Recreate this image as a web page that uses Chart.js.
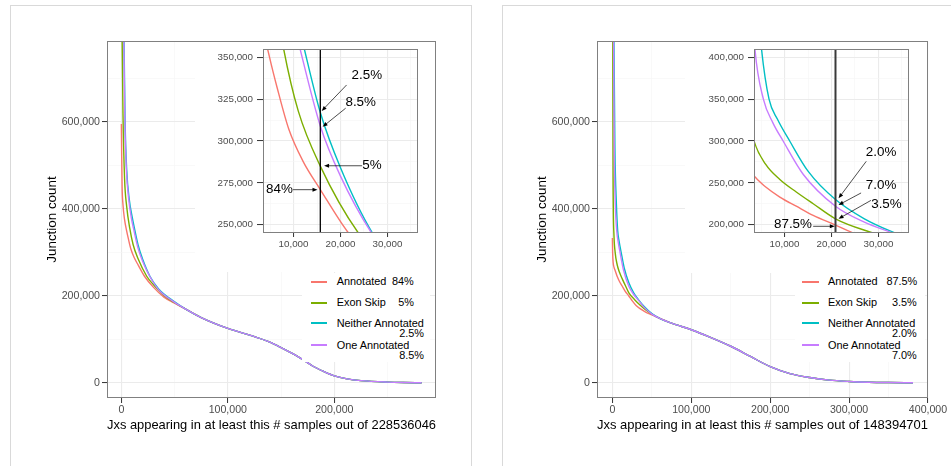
<!DOCTYPE html>
<html><head><meta charset="utf-8">
<script src="https://cdn.jsdelivr.net/npm/chart.js@4.4.1/dist/chart.umd.min.js"></script>
<style>
html,body{margin:0;padding:0;background:#fff;}
body{width:951px;height:466px;overflow:hidden;position:relative;font-family:'Liberation Sans',Arial,sans-serif;}
.card{position:absolute;top:5px;height:500px;border:1px solid #d9d9d9;box-sizing:border-box;background:#fff;}
canvas{position:absolute;display:block;}
.leg{position:absolute;background:#fff;}
.key{position:absolute;height:2px;}
.lt{position:absolute;white-space:nowrap;color:#000;}
</style></head><body>
<div class="card" style="left:10px;width:462px"></div>
<div class="card" style="left:502px;width:480px"></div>
<canvas id="mainL" width="480" height="466" style="left:0;top:0"></canvas>
<canvas id="insetL" width="240" height="230" style="left:195px;top:42px;background:#fff"></canvas>
<canvas id="mainR" width="471" height="466" style="left:480px;top:0"></canvas>
<canvas id="insetR" width="242" height="231" style="left:685px;top:42px;background:#fff"></canvas>
<div class="leg" style="left:302px;top:273px;width:128px;height:89px"></div>
<div class="leg" style="left:795px;top:273px;width:130px;height:89px"></div>
<script>
// ---------------- data ----------------
const seriesNames = ['Annotated', 'Exon Skip', 'Neither Annotated', 'One Annotated'];
const pctLeft = ['84%', '5%', '2.5%', '8.5%'];
const pctRight = ['87.5%', '3.5%', '2.0%', '7.0%'];
const samplesLeft = '228536046';
const samplesRight = '148394701';

// left panel (head of each series, then shared tail)
const lAnnX = [0, 300, 700, 1500, 3000, 4900, 6500, 9000, 12000, 15700, 21700, 30000, 40000, 50000];
const lAnnY = [595000, 520000, 450000, 410000, 375000, 350000, 332000, 307000, 288000, 271000, 245000, 220000, 197000, 183000];
const lSkipX = [400, 750, 1500, 3000, 5000, 7900, 11000, 15700, 23800, 30000, 40000, 50000];
const lSkipY = [900000, 786000, 620000, 470000, 405000, 355000, 318000, 285000, 245000, 226000, 201000, 184000];
const lNeitherX = [1500, 2500, 3500, 5000, 7500, 10000, 12300, 15700, 20000, 26800, 35000, 50000];
const lNeitherY = [900000, 786000, 600000, 490000, 420000, 383000, 355000, 317000, 284000, 245000, 216000, 186000];
const lOneX = [1300, 2300, 3300, 4700, 7000, 9300, 11400, 15700, 20000, 26600, 35000, 50000];
const lOneY = [900000, 786000, 600000, 490000, 420000, 380000, 355000, 309000, 279000, 245000, 214000, 185000];
const lTailX = [60000, 75000, 100000, 125000, 140000, 150000, 160000, 170000, 180000, 190000, 200000, 212000, 225000, 250000, 265000, 282000];
const lTailY = [170000, 150000, 125000, 106000, 93000, 81000, 68000, 54000, 38000, 26000, 16000, 9000, 5000, 1500, 500, 0];

// right panel
const rAnnX = [0, 300, 1000, 2000, 3500, 6000, 9000, 12500, 16100, 20850, 24200, 30000, 40000, 50000];
const rAnnY = [333000, 300000, 276000, 266000, 258000, 245000, 233000, 222000, 211000, 199500, 191000, 178000, 165000, 156000];
const rSkipX = [200, 500, 900, 2000, 3500, 6000, 9000, 12500, 16100, 20850, 28800, 35000, 42000, 50000];
const rSkipY = [900000, 786000, 470000, 340000, 300000, 272000, 254000, 239000, 225000, 207000, 190000, 179000, 168000, 158000];
const rNeitherX = [1000, 2000, 3200, 5100, 6700, 8500, 11100, 15000, 20850, 27000, 33500, 40000, 50000];
const rNeitherY = [900000, 786000, 540000, 410000, 350000, 326000, 300000, 264000, 230000, 207000, 190000, 176000, 159000];
const rOneX = [800, 1500, 2500, 3700, 5500, 7500, 9700, 14000, 20850, 27000, 33000, 40000, 50000];
const rOneY = [900000, 786000, 520000, 410000, 350000, 322000, 300000, 260000, 222000, 203000, 190000, 174000, 158000];
const rTailX = [60000, 75000, 100000, 125000, 150000, 175000, 200000, 225000, 250000, 275000, 300000, 325000, 350000, 381000];
const rTailY = [148000, 137000, 122000, 104000, 84000, 60500, 37000, 21000, 12000, 6000, 3000, 1300, 500, 0];

// tick values
const mainYTicks = [0, 100000, 200000, 300000, 400000, 500000, 600000, 700000];
const mainYMajor = [0, 200000, 400000, 600000];
const lMainXTicks = [0, 50000, 100000, 150000, 200000, 250000];
const lMainXMajor = [0, 100000, 200000];
const rMainXTicks = [0, 50000, 100000, 150000, 200000, 250000, 300000, 350000, 400000];
const rMainXMajor = [0, 100000, 200000, 300000, 400000];
const insetXTicks = [5000, 10000, 15000, 20000, 25000, 30000, 35000];
const insetXMajor = [10000, 20000, 30000];
const lInsetYTicks = [250000, 262500, 275000, 287500, 300000, 312500, 325000, 337500, 350000];
const lInsetYMajor = [250000, 275000, 300000, 325000, 350000];
const rInsetYTicks = [200000, 225000, 250000, 275000, 300000, 325000, 350000, 375000, 400000];
const rInsetYMajor = [200000, 250000, 300000, 350000, 400000];

// annotations (data coordinates of the insets)
const lMarkX = 15700;
const lLabelX = [25600, 24300, 26700, 7000];
const lLabelY = [339400, 322900, 285200, 270900];
const lFromX = [21300, 21100, 24600, 9900];
const lFromY = [333500, 319600, 285200, 270900];
const lToX = [16000, 16200, 16500, 15100];
const lToY = [318000, 308500, 285200, 270900];
const lLabels = ['2.5%', '8.5%', '5%', '84%'];

const rMarkX = 20850;
const rLabelX = [30550, 30550, 31700, 11800];
const rLabelY = [286400, 246600, 223900, 200000];
const rFromX = [27400, 26300, 28400, 16100];
const rFromY = [275700, 237900, 229000, 198000];
const rToX = [21500, 21500, 21500, 20700];
const rToY = [231500, 223500, 207000, 198000];
const rLabels = ['2.0%', '7.0%', '3.5%', '87.5%'];

// ---------------- drawing ----------------
const FONT = "'Liberation Sans', Arial, sans-serif";
const COLORS = ['#F8766D', '#7CAE00', '#00BFC4', '#C77CFF'];
Chart.defaults.font.family = FONT;

// font size giving a sample string a given rendered width
const measureCtx = document.createElement('canvas').getContext('2d');
function fitSize(sample, width) {
  measureCtx.font = '100px ' + FONT;
  return Math.round(100 * width / measureCtx.measureText(sample).width * 10) / 10;
}
const TITLE_SIZE = fitSize('Jxs appearing in at least this # samples out of 228536046', 342);
const TICK_SIZE = fitSize('600,000', 38.3);
const INSET_TICK_SIZE = fitSize('350,000', 35.6);
const LEGEND_SIZE = fitSize('Neither Annotated', 88);
const ANNO_SIZE = fitSize('87.5%', 38);

function pts(hx, hy, tx, ty) {
  const p = hx.map((x, i) => ({x: x, y: hy[i]}));
  (tx || []).forEach((x, i) => p.push({x: x, y: ty[i]}));
  return p;
}
function makeDatasets(list) {
  return list.map((d, i) => ({
    label: seriesNames[i], data: d, borderColor: COLORS[i], backgroundColor: COLORS[i],
    borderWidth: 1.4, pointRadius: 0, cubicInterpolationMode: 'monotone', fill: false, order: 3 - i
  }));
}
function makeScale(o) {
  const isMaj = c => c.tick && o.majors.includes(c.tick.value);
  return {
    type: 'linear', min: o.min, max: o.max, position: o.horizontal ? 'bottom' : 'left',
    afterBuildTicks: s => { s.ticks = o.all.map(v => ({value: v})); },
    afterFit: s => {
      if (o.horizontal) s.height = o.fit; else s.width = o.fit;
      s.paddingTop = 0; s.paddingBottom = 0; s.paddingLeft = 0; s.paddingRight = 0;
    },
    ticks: {
      autoSkip: false, maxRotation: 0, minRotation: 0, padding: o.pad, color: '#4d4d4d',
      font: {size: o.size},
      callback: v => o.majors.includes(v) ? v.toLocaleString('en-US') : ''
    },
    grid: {
      color: c => isMaj(c) ? '#ebebeb' : '#f5f5f5',
      lineWidth: c => isMaj(c) ? 1.1 : 0.6,
      tickColor: c => isMaj(c) ? '#333333' : 'rgba(0,0,0,0)',
      tickWidth: 1, tickLength: o.tick, drawTicks: true
    },
    border: {display: false},
    title: o.title ? {display: true, text: o.title, color: '#000', font: {size: TITLE_SIZE}, padding: o.titlePad} : {display: false}
  };
}
function framePlugin(cfg) {
  return {
    id: 'frame',
    afterDraw(chart) {
      const ctx = chart.ctx, a = chart.chartArea, sx = chart.scales.x, sy = chart.scales.y;
      if (cfg) {
        ctx.save();
        ctx.beginPath(); ctx.rect(a.left, a.top, a.right - a.left, a.bottom - a.top); ctx.clip();
        const mx = sx.getPixelForValue(cfg.mark);
        ctx.strokeStyle = cfg.markColor; ctx.lineWidth = cfg.markWidth;
        ctx.beginPath(); ctx.moveTo(mx, a.top); ctx.lineTo(mx, a.bottom); ctx.stroke();
        ctx.restore();
        ctx.save();
        ctx.strokeStyle = '#000'; ctx.fillStyle = '#000'; ctx.lineWidth = 0.7;
        cfg.texts.forEach((t, i) => {
          const x0 = sx.getPixelForValue(cfg.fx[i]), y0 = sy.getPixelForValue(cfg.fy[i]);
          const x1 = sx.getPixelForValue(cfg.tx[i]), y1 = sy.getPixelForValue(cfg.ty[i]);
          const ang = Math.atan2(y1 - y0, x1 - x0), L = 5, W = 2;
          const c = Math.cos(ang), s = Math.sin(ang);
          ctx.beginPath(); ctx.moveTo(x0, y0); ctx.lineTo(x1 - L * 0.6 * c, y1 - L * 0.6 * s); ctx.stroke();
          ctx.beginPath(); ctx.moveTo(x1, y1);
          ctx.lineTo(x1 - L * c + W * s, y1 - L * s - W * c);
          ctx.lineTo(x1 - L * c - W * s, y1 - L * s + W * c);
          ctx.closePath(); ctx.fill();
          ctx.font = ANNO_SIZE + 'px ' + FONT; ctx.textAlign = 'center'; ctx.textBaseline = 'middle';
          ctx.fillText(t, sx.getPixelForValue(cfg.lx[i]), sy.getPixelForValue(cfg.ly[i]));
        });
        ctx.restore();
      }
      ctx.save();
      ctx.strokeStyle = '#808080'; ctx.lineWidth = 1;
      ctx.strokeRect(a.left + 0.5, a.top + 0.5, a.right - a.left - 1, a.bottom - a.top - 1);
      ctx.restore();
    }
  };
}
function makeChart(id, datasets, padding, xs, ys, cfg) {
  return new Chart(document.getElementById(id), {
    type: 'line',
    data: {datasets: datasets},
    options: {
      responsive: false, animation: false, devicePixelRatio: 1,
      layout: {padding: padding},
      plugins: {legend: {display: false}, tooltip: {enabled: false}},
      scales: {x: xs, y: ys}
    },
    plugins: [framePlugin(cfg)]
  });
}

const leftData = [pts(lAnnX, lAnnY, lTailX, lTailY), pts(lSkipX, lSkipY, lTailX, lTailY),
                  pts(lNeitherX, lNeitherY, lTailX, lTailY), pts(lOneX, lOneY, lTailX, lTailY)];
const rightData = [pts(rAnnX, rAnnY, rTailX, rTailY), pts(rSkipX, rSkipY, rTailX, rTailY),
                   pts(rNeitherX, rNeitherY, rTailX, rTailY), pts(rOneX, rOneY, rTailX, rTailY)];

// main left
makeChart('mainL', makeDatasets(leftData), {left: 40, top: 41, right: 44, bottom: 18},
  makeScale({horizontal: true, min: -13500, max: 295500, all: lMainXTicks, majors: lMainXMajor, fit: 50, size: TICK_SIZE, pad: 1, tick: 5,
             title: 'Jxs appearing in at least this # samples out of ' + samplesLeft, titlePad: {top: 0, bottom: 15}}),
  makeScale({min: -35000, max: 786000, all: mainYTicks, majors: mainYMajor, fit: 67, size: TICK_SIZE, pad: 2, tick: 5,
             title: 'Junction count', titlePad: {top: 4, bottom: 0}}), null);
// main right
makeChart('mainR', makeDatasets(rightData), {left: 50, top: 41, right: 23, bottom: 18},
  makeScale({horizontal: true, min: -19500, max: 400000, all: rMainXTicks, majors: rMainXMajor, fit: 50, size: TICK_SIZE, pad: 1, tick: 5,
             title: 'Jxs appearing in at least this # samples out of ' + samplesRight, titlePad: {top: 0, bottom: 15}}),
  makeScale({min: -35000, max: 786000, all: mainYTicks, majors: mainYMajor, fit: 67, size: TICK_SIZE, pad: 2, tick: 5,
             title: 'Junction count', titlePad: {top: 4, bottom: 0}}), null);
// inset left
makeChart('insetL', makeDatasets(leftData), {left: 0, top: 7, right: 17, bottom: 0},
  makeScale({horizontal: true, min: 3500, max: 36500, all: insetXTicks, majors: insetXMajor, fit: 39, size: INSET_TICK_SIZE, pad: 1, tick: 4}),
  makeScale({min: 245000, max: 355000, all: lInsetYTicks, majors: lInsetYMajor, fit: 68, size: INSET_TICK_SIZE, pad: 4, tick: 6}),
  {mark: lMarkX, markColor: '#000', markWidth: 1.3, texts: lLabels, lx: lLabelX, ly: lLabelY, fx: lFromX, fy: lFromY, tx: lToX, ty: lToY});
// inset right
makeChart('insetR', makeDatasets(rightData), {left: 0, top: 7, right: 18, bottom: 0},
  makeScale({horizontal: true, min: 3500, max: 36500, all: insetXTicks, majors: insetXMajor, fit: 40, size: INSET_TICK_SIZE, pad: 1, tick: 4}),
  makeScale({min: 190000, max: 410000, all: rInsetYTicks, majors: rInsetYMajor, fit: 69, size: INSET_TICK_SIZE, pad: 4, tick: 6}),
  {mark: rMarkX, markColor: '#3a3a3a', markWidth: 2, texts: rLabels, lx: rLabelX, ly: rLabelY, fx: rFromX, fy: rFromY, tx: rToX, ty: rToY});

// legends (HTML text)
function addLegend(keyX1, keyX2, nameX, pctRightX, pcts) {
  const rowY = [281.7, 302.5, 323.3, 345];
  const pctY = [281.7, 302.5, 333.5, 355.7];
  const half = LEGEND_SIZE / 2;
  seriesNames.forEach((n, i) => {
    const k = document.createElement('div');
    k.className = 'key';
    k.style.left = keyX1 + 'px';
    k.style.top = Math.round(rowY[i] - 1) + 'px';
    k.style.width = (keyX2 - keyX1) + 'px';
    k.style.background = COLORS[i];
    document.body.appendChild(k);
    const t = document.createElement('div');
    t.className = 'lt'; t.textContent = n;
    t.style.fontSize = LEGEND_SIZE + 'px'; t.style.lineHeight = LEGEND_SIZE + 'px';
    t.style.left = nameX + 'px'; t.style.top = (rowY[i] - half) + 'px';
    document.body.appendChild(t);
    const p = document.createElement('div');
    p.className = 'lt'; p.textContent = pcts[i];
    p.style.fontSize = LEGEND_SIZE + 'px'; p.style.lineHeight = LEGEND_SIZE + 'px';
    p.style.right = (951 - pctRightX[i]) + 'px'; p.style.top = (pctY[i] - half) + 'px';
    document.body.appendChild(p);
  });
}
addLegend(310.7, 327, 336.7, [413.7, 414, 424, 424], pctLeft);
addLegend(802, 819, 828, [917.3, 916.7, 916.7, 916.7], pctRight);
</script>
</body></html>
